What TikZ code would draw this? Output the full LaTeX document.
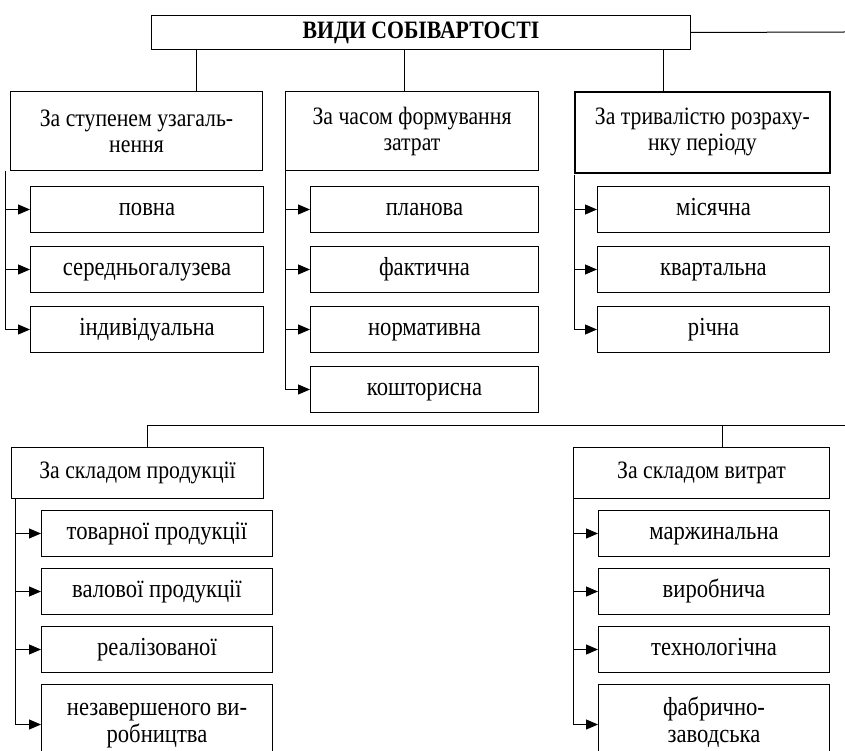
\documentclass[tikz,border=0pt]{standalone}
\usepackage{fontspec}
\setmainfont{Liberation Serif}[FakeStretch=0.87]
\usetikzlibrary{arrows.meta, positioning}

\begin{document}
\begin{tikzpicture}[x=1pt, y=-1pt,
        node distance=13pt,
        every node/.style={font=\fontsize{25}{26}\selectfont},
        box/.style={draw, line width=1pt, anchor=north west, inner sep=0pt, align=center},
        kind/.style={box, minimum height=79pt},
        item/.style={box, minimum height=46pt, font=\fontsize{26}{30}\selectfont, text height=17pt, text depth=6pt},
        item2/.style={box, minimum height=80pt, font=\fontsize{26}{27}\selectfont, text height=47pt, text depth=11pt},
        arr/.style={-{Triangle[length=12pt, width=10pt]}, line width=1pt},
        link/.style={line width=1pt}
    ]
        \useasboundingbox (0,0) rectangle (845,751);

        \node[box, minimum width=539pt, minimum height=34pt, font=\fontsize{25}{28}\selectfont\bfseries] (title) at (151,15) {ВИДИ СОБІВАРТОСТІ};
        \coordinate (titleout) at (845,32);

        \node[kind, minimum width=252pt] (stage) at (10,91) {За ступенем узагаль-\\нення};
        \node[kind, minimum width=253pt] (timing) at (285,91) {За часом формування\\затрат};
        \node[kind, minimum width=255pt, minimum height=81pt, line width=1.8pt] (period) at (574,91) {За тривалістю розраху-\\нку періоду};

        \node[item, minimum width=233pt] (full) at (30,186) {повна};
        \node[item, minimum width=233pt, below=of full] (avg) {середньогалузева};
        \node[item, minimum width=233pt, below=of avg] (indiv) {індивідуальна};

        \node[item, minimum width=228pt] (plan) at (310,186) {планова};
        \node[item, minimum width=228pt, below=of plan] (fact) {фактична};
        \node[item, minimum width=228pt, below=of fact] (norm) {нормативна};
        \node[item, minimum width=228pt, below=of norm] (est) {кошторисна};

        \node[item, minimum width=232pt] (month) at (597,186) {місячна};
        \node[item, minimum width=232pt, below=of month] (quarter) {квартальна};
        \node[item, minimum width=232pt, below=of quarter] (year) {річна};

        \coordinate (busL) at (147,425);
        \coordinate (busR) at (845,425);
        \node[box, minimum width=252pt, minimum height=51pt] (product) at (11,447) {За складом продукції};
        \node[box, minimum width=256pt, minimum height=51pt] (costs) at (573,447) {За складом витрат};

        \node[item, minimum width=231pt] (market) at (41,510) {товарної продукції};
        \node[item, minimum width=231pt, below=11pt of market] (gross) {валової продукції};
        \node[item, minimum width=231pt, below=11pt of gross] (sold) {реалізованої};
        \node[item2, minimum width=231pt, below=11pt of sold] (wip) {незавершеного ви-\\робництва};

        \node[item, minimum width=231pt] (marg) at (598,510) {маржинальна};
        \node[item, minimum width=231pt, below=11pt of marg] (prodn) {виробнича};
        \node[item, minimum width=231pt, below=11pt of prodn] (tech) {технологічна};
        \node[item2, minimum width=231pt, below=11pt of tech] (factory) {фабрично-\\заводська};

        \draw[link] (title.east) -- (titleout);
        \foreach \n/\dx in {stage/60, timing/-8, period/-39}
            \draw[link] ([xshift=\dx pt]\n.north) -- ([xshift=\dx pt]\n.north |- title.south);

        \foreach \c in {full, avg, indiv}
            \draw[arr] ([xshift=-5pt]stage.south west) |- (\c.west);
        \foreach \c in {plan, fact, norm, est}
            \draw[arr] (timing.south west) |- (\c.west);
        \foreach \c in {month, quarter, year}
            \draw[arr] ([yshift=-1pt]period.south west) |- (\c.west);

        \draw[link] (busR) -- (busL) -- (busL |- product.north);
        \draw[link] ([xshift=21pt]costs.north) -- ([xshift=21pt]costs.north |- busL);
        \foreach \c in {market, gross, sold, wip}
            \draw[arr] ([xshift=4pt]product.south west) |- (\c.west);
        \foreach \c in {marg, prodn, tech, factory}
            \draw[arr] (costs.south west) |- (\c.west);
    \end{tikzpicture}
\end{document}
